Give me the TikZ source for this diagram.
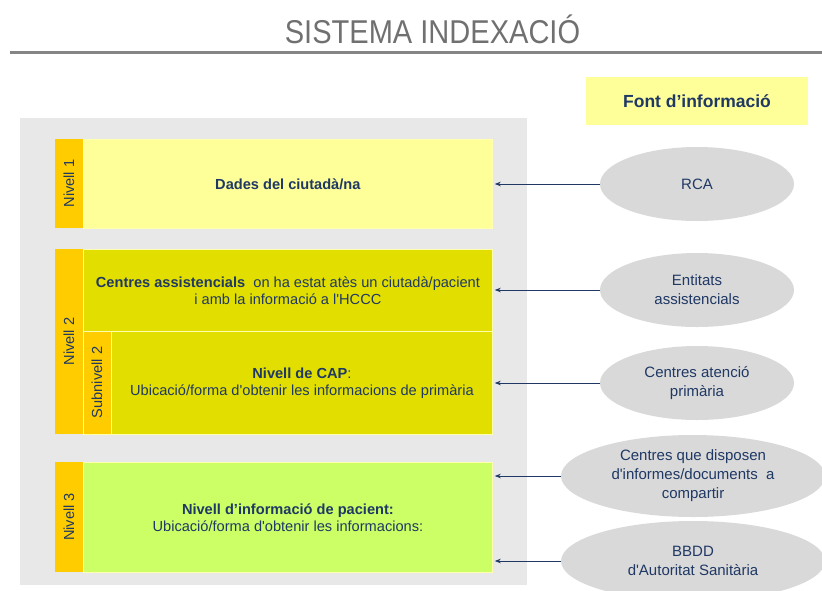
\documentclass[tikz,border=0pt]{standalone}
\usepackage{fontspec}
\setmainfont{Liberation Sans}
\usetikzlibrary{shapes.geometric, arrows.meta, positioning}

\definecolor{navy}{RGB}{31,56,100}
\definecolor{titlegray}{RGB}{112,112,112}
\definecolor{panelgray}{RGB}{232,232,232}
\definecolor{tabgold}{RGB}{255,204,0}
\definecolor{paleyellow}{RGB}{255,255,153}
\definecolor{olive}{RGB}{226,223,0}
\definecolor{lime}{RGB}{204,255,102}
\definecolor{ovalgray}{RGB}{217,217,217}

\tikzset{
    txt/.style={font=\fontsize{14.6}{17}\selectfont, text=navy, align=center},
    tab/.style={txt, fill=tabgold, inner sep=0pt, rotate=90},
    level/.style={txt, inner sep=0pt, anchor=north west, draw=paleyellow!80, line width=0.8pt},
    source/.style={txt, ellipse, fill=ovalgray, inner sep=0pt, font=\fontsize{15}{19}\selectfont},
    feed/.style={->, navy, line width=0.7pt},
}

\begin{document}
\begin{tikzpicture}[x=1pt, y=-1pt, >={Stealth[length=6pt,width=4.5pt]}]
        \useasboundingbox (0,0) rectangle (822,590);

        % Title and rule
        \node[font=\fontsize{33}{36}\selectfont, text=titlegray] (title) at (432.5,29)
            {\scalebox{0.88}[1]{SISTEMA INDEXACIÓ}};
        \draw[line width=3pt, titlegray!85] (10,52) -- (822,52);

        % Header of the sources column
        \node[fill=paleyellow, minimum width=222, minimum height=48, inner sep=0pt,
              font=\bfseries\fontsize{17.5}{20}\selectfont, text=navy] (font) at (697,101) {Font d’informació};

        % Grey panel behind the levels
        \fill[panelgray] (20,118) rectangle (527,585);

        % Nivell 1
        \node[tab, minimum width=89, minimum height=28] (t1) at (69,183.5) {Nivell 1};
        \node[level, fill=paleyellow, minimum width=409, minimum height=89] (b1) at (83,139)
            {\textbf{Dades del ciutadà/na}};

        % Nivell 2 and its subnivell
        \node[tab, minimum width=185, minimum height=28] (t2) at (69,341.5) {Nivell 2};
        \node[level, fill=olive, minimum width=409, minimum height=82] (b2) at (83,249)
            {\textbf{Centres assistencials}\ \ on ha estat atès un ciutadà/pacient\\
             i amb la informació a l\textquotesingle HCCC};
        \node[tab, draw=paleyellow!80, line width=0.8pt, minimum width=103, minimum height=28] (t2s) at (97,382.5) {Subnivell 2};
        \node[level, fill=olive, minimum width=381, minimum height=103] (b2s) at (111,331)
            {\textbf{Nivell de CAP}:\\
             Ubicació/forma d\textquotesingle obtenir les informacions de primària};

        % Nivell 3
        \node[tab, minimum width=110, minimum height=28] (t3) at (69,517) {Nivell 3};
        \node[level, fill=lime, minimum width=409, minimum height=110] (b3) at (83,462)
            {\textbf{Nivell d’informació de pacient:}\\
             Ubicació/forma d\textquotesingle obtenir les informacions:};

        % Sources
        \node[source, minimum width=194, minimum height=74] (s1) at (697,184) {RCA};
        \node[source, minimum width=194, minimum height=74] (s2) at (697,290) {Entitats\\assistencials};
        \node[source, minimum width=194, minimum height=74] (s3) at (697,383) {Centres atenció\\primària};
        \node[source, minimum width=264, minimum height=82] (s4) at (693,476)
            {Centres que disposen\\d\textquotesingle informes/documents\ \ a\\compartir};
        \node[source, minimum width=264, minimum height=80] (s5) at (693,561)
            {BBDD\\d\textquotesingle Autoritat Sanitària};

        % Arrows from each source to its level
        \foreach \s/\b in {s1/b1, s2/b2, s3/b2s, s4/b3, s5/b3}
            \draw[feed] (\s.west) -- ([xshift=2pt]\s.west -| \b.east);
    \end{tikzpicture}
\end{document}
